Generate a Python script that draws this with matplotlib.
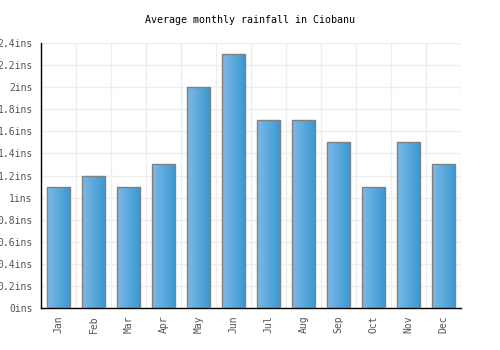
import matplotlib
matplotlib.use("Agg")
import matplotlib.pyplot as plt
import numpy as np
from matplotlib.colors import LinearSegmentedColormap

months = ["Jan", "Feb", "Mar", "Apr", "May", "Jun", "Jul", "Aug", "Sep", "Oct", "Nov", "Dec"]
rainfall = [1.1, 1.2, 1.1, 1.3, 2.0, 2.3, 1.7, 1.7, 1.5, 1.1, 1.5, 1.3]
yticks = [0, 0.2, 0.4, 0.6, 0.8, 1.0, 1.2, 1.4, 1.6, 1.8, 2.0, 2.2, 2.4]
ylabels = ["0ins", "0.2ins", "0.4ins", "0.6ins", "0.8ins", "1ins", "1.2ins",
           "1.4ins", "1.6ins", "1.8ins", "2ins", "2.2ins", "2.4ins"]

plt.rcParams['font.family'] = ['DejaVu Sans Mono']

fig = plt.figure(figsize=(5, 3.5), dpi=100)
ax = fig.add_axes([0.082, 0.12, 0.84, 0.757])

x = np.arange(len(months))
bars = ax.bar(x, rainfall, width=0.66, color='none', edgecolor='#808080', linewidth=1, zorder=3)

# gradient fill, lighter on the left
cmap = LinearSegmentedColormap.from_list("g", ["#7db9e8", "#3898d0"])
grad = np.linspace(0, 1, 64).reshape(1, -1)
for b in bars:
    bx, by = b.get_x(), b.get_y()
    w, h = b.get_width(), b.get_height()
    im = ax.imshow(grad, cmap=cmap, aspect='auto', extent=[bx, bx + w, by, by + h], zorder=2)
    im.set_clip_path(b)

ax.set_xlim(-0.5, 11.5)
ax.set_ylim(0, 2.4)
ax.set_xticks(x)
ax.set_xticklabels(months, rotation=90, fontsize=7, color='#555555')
ax.set_yticks(yticks)
ax.set_yticklabels(ylabels, fontsize=7, color='#555555')
ax.set_xticks(np.arange(-0.5, 12, 1), minor=True)
ax.tick_params(axis='y', length=0, which='both', pad=6)
ax.tick_params(axis='x', length=0, which='both', pad=5)
ax.grid(True, which='minor', axis='x', color='#eeeeee', linewidth=1, zorder=0)
ax.grid(True, which='major', axis='y', color='#eeeeee', linewidth=1, zorder=0)
ax.set_axisbelow(True)
for s in ['top', 'right']:
    ax.spines[s].set_visible(False)
for s in ['left', 'bottom']:
    ax.spines[s].set_color('black')
    ax.spines[s].set_linewidth(1)

fig.text(0.5, 0.943, "Average monthly rainfall in Ciobanu", ha='center', va='center',
         fontsize=7.2, color='black')

fig.savefig("out.png")
